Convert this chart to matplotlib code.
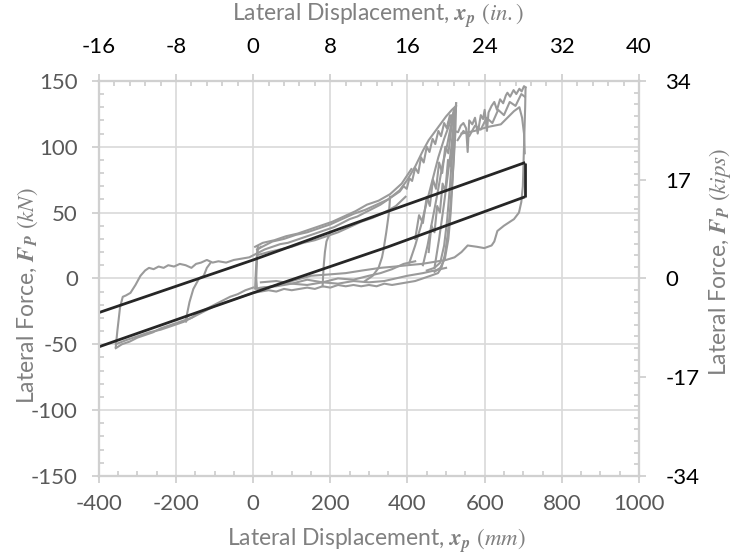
"""Lateral force vs lateral displacement hysteresis (mm/kN with in./kips twin axes)."""

import matplotlib
matplotlib.use("Agg")
import matplotlib.pyplot as plt
from matplotlib.ticker import MultipleLocator

plt.rcParams["font.family"] = ["Lato", "DejaVu Sans"]
plt.rcParams["axes.unicode_minus"] = False
plt.rcParams["mathtext.fontset"] = "custom"
plt.rcParams["mathtext.rm"] = "STIXGeneral"
plt.rcParams["mathtext.it"] = "STIXGeneral:italic"
plt.rcParams["mathtext.bf"] = "STIXGeneral:italic:bold"

backbone_x = [-356, -352, -345, -338, -330, -318, -305, -292, -280, -270, -258, -245,
              -232, -220, -205, -190, -175, -160, -148, -135, -120, -105, -90, -70,
              -50, -30, -10, 10, 30, 50, 70, 90, 110, 130, 150, 170, 190, 210, 230,
              250, 270, 290, 310, 330, 350, 370, 380, 390, 398, 405, 412, 420, 428,
              435, 442, 450, 457, 465, 472, 480, 487, 495, 502, 510, 516, 520, 524, 526]
backbone_f = [-52, -40, -22, -14, -13, -11, -5, 2, 6, 8, 7, 9, 8, 10, 9, 11, 10, 8,
              11, 12, 14, 12, 13, 12, 14, 15, 16, 19, 22, 24, 26, 27, 29, 31, 33, 35,
              37, 39, 42, 45, 47, 50, 53, 56, 60, 64, 66, 70, 68, 76, 74, 84, 80, 92,
              88, 100, 96, 106, 102, 112, 108, 118, 114, 124, 120, 128, 126, 133]

backbone2_x = [10, 30, 50, 80, 110, 140, 170, 200, 230, 260, 290, 320, 350, 380, 400,
               420, 440, 455, 470, 485, 500, 515, 526]
backbone2_f = [22, 25, 28, 30, 33, 35, 38, 41, 45, 49, 52, 56, 60, 67, 75, 85, 97,
               105, 111, 117, 123, 128, 131]

backbone3_x = [15, 40, 70, 100, 130, 160, 190, 220, 250, 280, 310, 340, 370, 395]
backbone3_f = [18, 20, 22, 24, 27, 29, 32, 35, 39, 43, 46, 50, 55, 62]

backbone4_x = [5, 25, 55, 85, 115, 145, 175, 205, 235, 265, 295, 325, 355, 385, 410]
backbone4_f = [24, 27, 29, 32, 34, 37, 40, 43, 47, 51, 56, 59, 64, 72, 83]

unload1_x = [526, 524, 520, 515, 510, 504, 497, 488, 479, 460, 440, 420, 400, 380,
             360, 340, 320, 300, 280, 260, 240, 220, 200, 180, 160, 140, 120, 100,
             80, 60, 40, 20, 0, -20, -40, -60, -80, -100, -120, -140, -160, -180,
             -200, -220, -240, -260, -280, -300, -320, -340, -356]
unload1_f = [133, 110, 90, 70, 50, 33, 18, 8, 4, 2, 0, -2, -3, -4, -5, -4, -6, -5,
             -6, -5, -6, -5, -7, -6, -8, -7, -8, -9, -8, -10, -9, -10, -11, -13,
             -15, -17, -19, -21, -24, -27, -30, -32, -34, -36, -38, -41, -43, -45,
             -48, -50, -53]

lowneg_x = [0, -20, -40, -60, -80, -100, -120, -140, -160, -180, -210, -240, -270,
            -300, -330, -356]
lowneg_f = [-7, -9, -12, -14, -17, -20, -23, -26, -30, -33, -36, -39, -41, -44,
            -47, -50]

unload3_x = [500, 470, 440, 400, 370, 340, 300, 260, 220, 180, 140, 100, 60, 20, 5,
             7, 9, 12]
unload3_f = [8, 6, 4, 2, 0, -2, -3, -2, -4, -3, -5, -4, -6, -7, -8, 5, 15, 24]

lowpos_x = [20, 60, 100, 140, 180, 220, 260, 300, 330, 360, 390, 420]
lowpos_f = [-3, -2, -4, -1, -3, 0, -1, 2, 4, 7, 11, 13]

reload_x = [505, 515, 522, 531, 538, 545, 552, 556, 560, 568, 575, 582, 590, 596,
            600, 606, 610, 618, 625, 632, 640, 648, 655, 659, 666, 675, 682, 690,
            696, 702, 706]
reload_f = [118, 124, 112, 111, 116, 118, 114, 96, 120, 117, 122, 110, 124, 121,
            128, 112, 126, 131, 134, 128, 136, 133, 139, 141, 138, 143, 140, 144,
            142, 146, 145]

reload2_x = [530, 545, 560, 575, 590, 605, 620, 635, 650, 665, 680, 695, 704]
reload2_f = [105, 112, 108, 116, 113, 122, 118, 128, 124, 134, 131, 140, 138]

unload2_x = [706, 705, 703, 701, 699, 695, 689, 676, 650, 633, 625, 618, 599, 580,
             556, 540, 522, 500, 479, 437, 400, 368, 330, 283, 240, 197, 150, 100,
             50, 10, 8, 10, 12, 20]
unload2_f = [145, 130, 110, 90, 70, 58, 50, 45, 40, 36, 28, 25, 23, 24, 25, 20, 16,
             14, 13, 11, 10, 9, 8, 6, 4, 3, 2, -2, -6, -8, 0, 15, 22, 24]

inner_x = [540, 574, 608, 642, 676, 690, 697, 702, 704]
inner_f = [110, 112, 115, 117, 127, 130, 122, 110, 95]

loop180_x = [180, 181, 183, 186, 190, 200]
loop180_f = [-6, 0, 10, 20, 28, 35]

loop355_x = [355, 352, 345, 338, 334, 325, 310, 290]
loop355_f = [62, 50, 35, 22, 16, 8, 2, -2]

loopneg_x = [-170, -174, -172, -165, -155, -140, -128, -120, -110]
loopneg_f = [-28, -33, -28, -18, -8, 0, 2, 8, 12]

reup1_x = [405, 420, 435, 450, 465, 480, 495, 510, 522]
reup1_f = [12, 25, 40, 58, 75, 92, 106, 118, 128]
reup2_x = [440, 452, 465, 478, 490, 502, 512, 522]
reup2_f = [10, 25, 45, 65, 85, 100, 115, 126]
reup3_x = [470, 482, 494, 505, 514, 520, 525]
reup3_f = [8, 30, 55, 80, 100, 118, 130]
reup4_x = [420, 430, 440, 450, 458, 466, 474, 482, 490, 498, 506, 514, 520]
reup4_f = [30, 48, 42, 62, 55, 75, 68, 88, 80, 100, 95, 115, 125]
reup5_x = [455, 462, 470, 477, 484, 491, 498, 505, 512, 518]
reup5_f = [20, 40, 35, 55, 50, 72, 66, 90, 85, 110]

down1_x = [524, 521, 517, 512, 506, 497, 485, 470]
down1_f = [128, 100, 75, 50, 30, 15, 8, 5]
down2_x = [522, 516, 510, 503, 495, 485, 470, 450]
down2_f = [125, 95, 70, 45, 25, 12, 8, 6]

# idealised model (parallelogram)
model_up_x = [-400, 0, 350, 705]
model_up_f = [-26, 14, 51, 88]
model_lo_x = [-400, 0, 350, 705]
model_lo_f = [-52, -11, 24, 62]
model_end_x = [705, 705]
model_end_f = [62, 88]

GREY = "#9a9a9a"
AX = "#d0d0d0"
LBL = "#808080"
TXT = "#595959"


def main():
    fig = plt.figure(figsize=(7.43, 5.54), dpi=100)
    ax = fig.add_axes([0.133, 0.141, 0.727, 0.713])

    segs = [(backbone_x, backbone_f), (backbone2_x, backbone2_f),
            (backbone3_x, backbone3_f), (backbone4_x, backbone4_f),
            (unload1_x, unload1_f), (lowneg_x, lowneg_f), (unload3_x, unload3_f),
            (lowpos_x, lowpos_f), (reload_x, reload_f), (reload2_x, reload2_f),
            (unload2_x, unload2_f), (inner_x, inner_f),
            (loop180_x, loop180_f), (loop355_x, loop355_f), (loopneg_x, loopneg_f),
            (reup1_x, reup1_f), (reup2_x, reup2_f), (reup3_x, reup3_f),
            (reup4_x, reup4_f), (reup5_x, reup5_f),
            (down1_x, down1_f), (down2_x, down2_f)]
    for xs, fs in segs:
        ax.plot(xs, fs, color=GREY, lw=1.5, zorder=3)

    for xs, fs in [(model_up_x, model_up_f), (model_lo_x, model_lo_f),
                   (model_end_x, model_end_f)]:
        ax.plot(xs, fs, color="#262626", lw=2.0, zorder=4, solid_capstyle="butt")

    ax.set_xlim(-400, 1000)
    ax.set_ylim(-150, 150)
    ax.xaxis.set_major_locator(MultipleLocator(200))
    ax.xaxis.set_minor_locator(MultipleLocator(50))
    ax.yaxis.set_major_locator(MultipleLocator(50))
    ax.yaxis.set_minor_locator(MultipleLocator(10))
    ax.grid(True, which="major", color="#d9d9d9", lw=1.2, zorder=0)
    ax.set_axisbelow(True)

    top = ax.twiny()
    top.set_xlim(-16, 40)
    top.xaxis.set_major_locator(MultipleLocator(8))
    top.xaxis.set_minor_locator(MultipleLocator(1.6))
    right = ax.twinx()
    right.set_ylim(-34, 34)
    right.yaxis.set_major_locator(MultipleLocator(17))
    right.yaxis.set_minor_locator(MultipleLocator(2))

    for a in (ax, top, right):
        for s in a.spines.values():
            s.set_color(AX)
            s.set_linewidth(1.5)
        a.tick_params(which="major", direction="out", length=5, width=1.3, color=AX,
                      labelsize=16)
        a.tick_params(which="minor", direction="in", length=3.5, width=1.3, color=AX)
    ax.tick_params(axis="x", labelcolor=TXT, pad=8)
    ax.tick_params(axis="y", labelcolor=TXT, pad=10)
    top.tick_params(axis="x", labelcolor="#000000", pad=12)
    right.tick_params(axis="y", labelcolor="#000000", pad=14)

    lab = dict(fontsize=16.5, color=LBL, ha="center", va="center")
    fig.text(0.506, 0.025, r"Lateral Displacement, $\mathbf{x_p}$ $(\mathit{mm})$", **lab)
    fig.text(0.509, 0.971, r"Lateral Displacement, $\mathbf{x_p}$ $(\mathit{in.})$", **lab)
    fig.text(0.038, 0.466, r"Lateral Force, $\mathbf{F_P}$ $(\mathit{kN})$",
             rotation=90, **lab)
    fig.text(0.969, 0.527, r"Lateral Force, $\mathbf{F_P}$ $(\mathit{kips})$",
             rotation=90, **lab)

    fig.savefig("out.png", dpi=100)


if __name__ == "__main__":
    main()
